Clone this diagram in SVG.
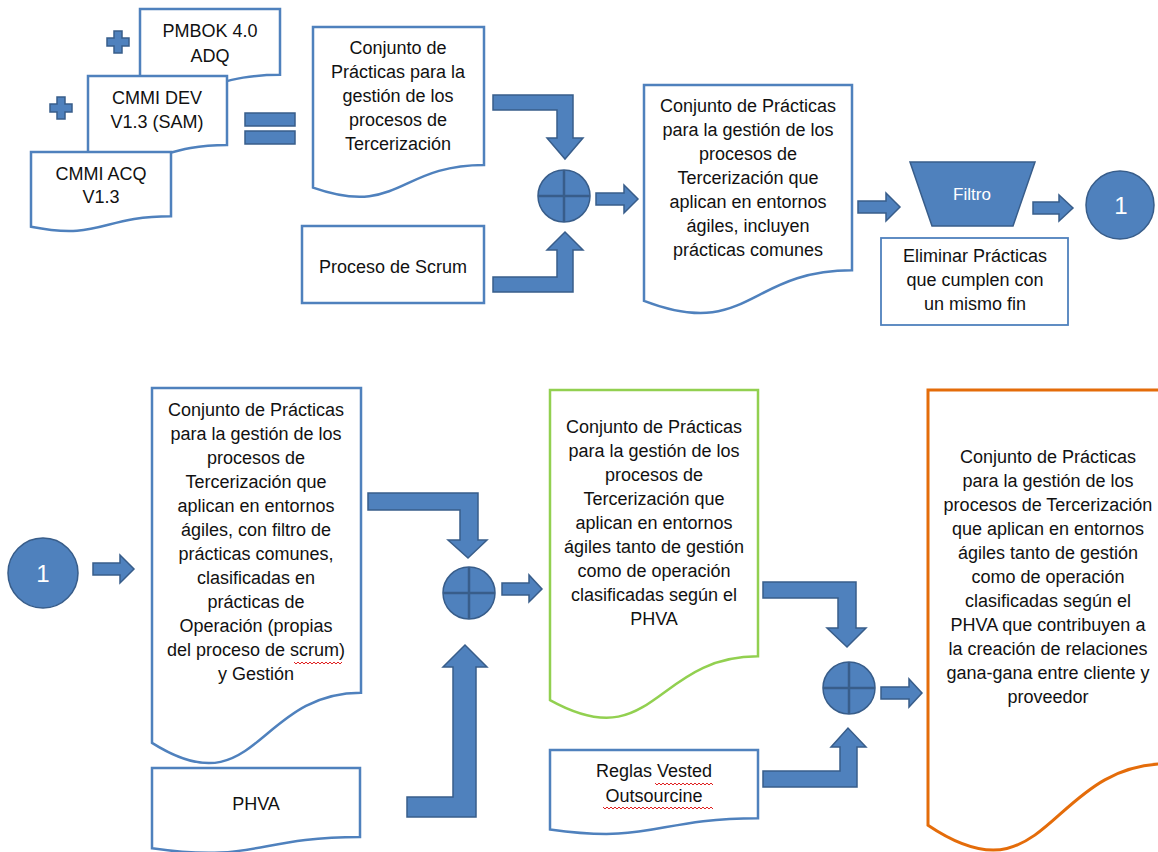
<svg xmlns="http://www.w3.org/2000/svg" width="1158" height="852" viewBox="0 0 1158 852">
<style>
.doc{fill:#fff;stroke:#4F81BD;stroke-width:2.5}
.green{fill:#fff;stroke:#92D050;stroke-width:2.5}
.orange{fill:#fff;stroke:#E46C0A;stroke-width:3}
.box{fill:#fff;stroke:#4F81BD;stroke-width:2.5}
.thin{fill:#fff;stroke:#4F81BD;stroke-width:1.8}
.blk{fill:#4F81BD;stroke:#385D8A;stroke-width:1.5}
.crs{stroke:#385D8A;stroke-width:2.5}
text{font-family:"Liberation Sans",Arial,sans-serif;font-size:18px;fill:#111;text-anchor:middle}
text.w{fill:#fff}
text.num{font-size:24px}
text.fil{font-size:17px}
.sq{fill:none;stroke:#E02020;stroke-width:1}
</style>
<rect width="1158" height="852" fill="#fff"/>

<g id="pmbok">
<path class="doc" d="M140 9 H280 V74.8 C210 74.8 210 99.8 140 85.6 Z"/>
<text x="210" y="37">PMBOK 4.0</text>
<text x="210" y="62">ADQ</text>
</g>
<g id="cmmi-dev">
<path class="doc" d="M88 76 H227 V145 C157.5 145 157.5 171.2 88 156.3 Z"/>
<text x="157" y="104">CMMI DEV</text>
<text x="157" y="128">V1.3 (SAM)</text>
</g>
<g id="cmmi-acq">
<path class="doc" d="M31 152 H171 V216.2 C101 216.2 101 240.6 31 226.7 Z"/>
<text x="101" y="180">CMMI ACQ</text>
<text x="101" y="203">V1.3</text>
</g>
<g id="plus1"><path class="blk" d="M114 31 h8 v7 h7 v8 h-7 v7 h-8 v-7 h-7 v-8 h7 Z"/></g>
<g id="plus2"><path class="blk" d="M57 97 h8 v7 h7 v8 h-7 v7 h-8 v-7 h-7 v-8 h7 Z"/></g>
<g id="equals">
<rect class="blk" x="245" y="113" width="50" height="13"/>
<rect class="blk" x="245" y="131" width="50" height="13"/>
</g>

<g id="conjunto1">
<path class="doc" d="M313 27 H484 V164.9 C398.5 164.9 398.5 217.5 313 187.6 Z"/>
<text x="398" y="54">Conjunto de</text>
<text x="398" y="78">Prácticas para la</text>
<text x="398" y="102">gestión de los</text>
<text x="398" y="126">procesos de</text>
<text x="398" y="150">Tercerización</text>
</g>
<g id="scrum">
<rect class="box" x="302" y="226" width="182" height="77"/>
<text x="393" y="273">Proceso de Scrum</text>
</g>
<g id="sum1">
<circle class="blk" cx="564" cy="196" r="26" stroke-width="2"/>
<path class="crs" d="M538 196 H590 M564 170 V222"/>
</g>
<g id="conjunto2">
<path class="doc" d="M644 85 H852 V270.3 C748 270.3 748 340.8 644 300.8 Z"/>
<text x="748" y="112">Conjunto de Prácticas</text>
<text x="748" y="136">para la gestión de los</text>
<text x="748" y="160">procesos de</text>
<text x="748" y="184">Tercerización que</text>
<text x="748" y="208">aplican en entornos</text>
<text x="748" y="232">ágiles, incluyen</text>
<text x="748" y="256">prácticas comunes</text>
</g>
<g id="filtro">
<polygon class="blk" points="910,162 1035,162 1013,226 932,226"/>
<text class="w fil" x="972" y="200">Filtro</text>
</g>
<g id="eliminar">
<rect class="thin" x="881" y="238" width="187" height="87"/>
<text x="975" y="262">Eliminar Prácticas</text>
<text x="975" y="286">que cumplen con</text>
<text x="975" y="310">un mismo fin</text>
</g>
<g id="conector1-top">
<circle class="blk" cx="1120" cy="205" r="34"/>
<text class="w num" x="1121" y="214">1</text>
</g>

<g id="conector1-bottom">
<circle class="blk" cx="43" cy="573" r="35"/>
<text class="w num" x="43" y="582">1</text>
</g>
<g id="conjunto3">
<path class="doc" d="M152 388 H361 V692.8 C256.5 692.8 256.5 808.9 152 742.9 Z"/>
<text x="256" y="416">Conjunto de Prácticas</text>
<text x="256" y="440">para la gestión de los</text>
<text x="256" y="464">procesos de</text>
<text x="256" y="488">Tercerización que</text>
<text x="256" y="512">aplican en entornos</text>
<text x="256" y="536">ágiles, con filtro de</text>
<text x="256" y="560">prácticas comunes,</text>
<text x="256" y="584">clasificadas en</text>
<text x="256" y="608">prácticas de</text>
<text x="256" y="632">Operación (propias</text>
<text x="256" y="656">del proceso de scrum)</text>
<text x="256" y="680">y Gestión</text>
<path class="sq" d="M294 662 l2 2 l2 -2 l2 2 l2 -2 l2 2 l2 -2 l2 2 l2 -2 l2 2 l2 -2 l2 2 l2 -2 l2 2 l2 -2 l2 2 l2 -2 l2 2 l2 -2 l2 2 l2 -2 l2 2 l2 -2 l2 2 l2 -2"/>
</g>
<g id="phva">
<path class="doc" d="M152 768 H360 V837 C256 837 256 863.2 152 848.3 Z"/>
<text x="256" y="810">PHVA</text>
</g>
<g id="sum2">
<circle class="blk" cx="469" cy="593" r="26" stroke-width="2"/>
<path class="crs" d="M443 593 H495 M469 567 V619"/>
</g>
<g id="conjunto4">
<path class="green" d="M550 390 H758 V656.3 C654 656.3 654 757.7 550 700.1 Z"/>
<text x="654" y="433">Conjunto de Prácticas</text>
<text x="654" y="457">para la gestión de los</text>
<text x="654" y="481">procesos de</text>
<text x="654" y="505">Tercerización que</text>
<text x="654" y="529">aplican en entornos</text>
<text x="654" y="553">ágiles tanto de gestión</text>
<text x="654" y="577">como de operación</text>
<text x="654" y="601">clasificadas según el</text>
<text x="654" y="625">PHVA</text>
</g>
<g id="reglas">
<path class="doc" d="M550 750 H758 V818.2 C654 818.2 654 844.1 550 829.4 Z"/>
<text x="654" y="777">Reglas Vested</text>
<text x="654" y="802">Outsourcine</text>
<path class="sq" d="M655 783 l2 2 l2 -2 l2 2 l2 -2 l2 2 l2 -2 l2 2 l2 -2 l2 2 l2 -2 l2 2 l2 -2 l2 2 l2 -2 l2 2 l2 -2 l2 2 l2 -2 l2 2 l2 -2 l2 2 l2 -2 l2 2 l2 -2 l2 2 l2 -2 l2 2 l2 -2 l2 2"/>
<path class="sq" d="M603 807 l2 2 l2 -2 l2 2 l2 -2 l2 2 l2 -2 l2 2 l2 -2 l2 2 l2 -2 l2 2 l2 -2 l2 2 l2 -2 l2 2 l2 -2 l2 2 l2 -2 l2 2 l2 -2 l2 2 l2 -2 l2 2 l2 -2 l2 2 l2 -2 l2 2 l2 -2 l2 2 l2 -2 l2 2 l2 -2 l2 2 l2 -2 l2 2 l2 -2 l2 2 l2 -2 l2 2 l2 -2 l2 2 l2 -2 l2 2 l2 -2 l2 2 l2 -2 l2 2 l2 -2 l2 2 l2 -2 l2 2 l2 -2 l2 2 l2 -2 l2 2"/>
</g>
<g id="sum3">
<circle class="blk" cx="849" cy="688" r="26" stroke-width="2"/>
<path class="crs" d="M823 688 H875 M849 662 V714"/>
</g>
<g id="conjunto5">
<path class="orange" d="M928 390 H1168 V763.7 C1048 763.7 1048 906.1 928 825.2 Z"/>
<text x="1048" y="463">Conjunto de Prácticas</text>
<text x="1048" y="487">para la gestión de los</text>
<text x="1048" y="511">procesos de Tercerización</text>
<text x="1048" y="535">que aplican en entornos</text>
<text x="1048" y="559">ágiles tanto de gestión</text>
<text x="1048" y="583">como de operación</text>
<text x="1048" y="607">clasificadas según el</text>
<text x="1048" y="631">PHVA que contribuyen a</text>
<text x="1048" y="655">la creación de relaciones</text>
<text x="1048" y="679">gana-gana entre cliente y</text>
<text x="1048" y="703">proveedor</text>
</g>

<g id="connectors">
<polygon class="blk" points="493,95 573,95 573,138 583,138 565,159 547,138 557,138 557,110 493,110"/>
<polygon class="blk" points="493,292 573,292 573,250 583,250 565,232 547,250 557,250 557,277 493,277"/>
<polygon class="blk" points="596,193 624,193 624,185 638,199 624,213 624,205 596,205"/>
<polygon class="blk" points="858,201 886,201 886,193 900,207 886,221 886,213 858,213"/>
<polygon class="blk" points="1033,202 1059,202 1059,195 1073,208 1059,221 1059,214 1033,214"/>
<polygon class="blk" points="93,563 120,563 120,555 134,569 120,583 120,575 93,575"/>
<polygon class="blk" points="368,493 478,493 478,540 487,540 468,558 448,540 460,540 460,510 368,510"/>
<polygon class="blk" points="407,817 476,817 476,667 487,667 465,645 443,667 453,667 453,797 407,797"/>
<polygon class="blk" points="502,583 529,583 529,575 542,589 529,602 529,595 502,595"/>
<polygon class="blk" points="763,582 856,582 856,628 866,628 847,647 827,628 838,628 838,598 763,598"/>
<polygon class="blk" points="763,787 857,787 857,747 866,747 848,728 831,747 840,747 840,771 763,771"/>
<polygon class="blk" points="881,687 909,687 909,679 922,693 909,707 909,699 881,699"/>
</g>
</svg>
